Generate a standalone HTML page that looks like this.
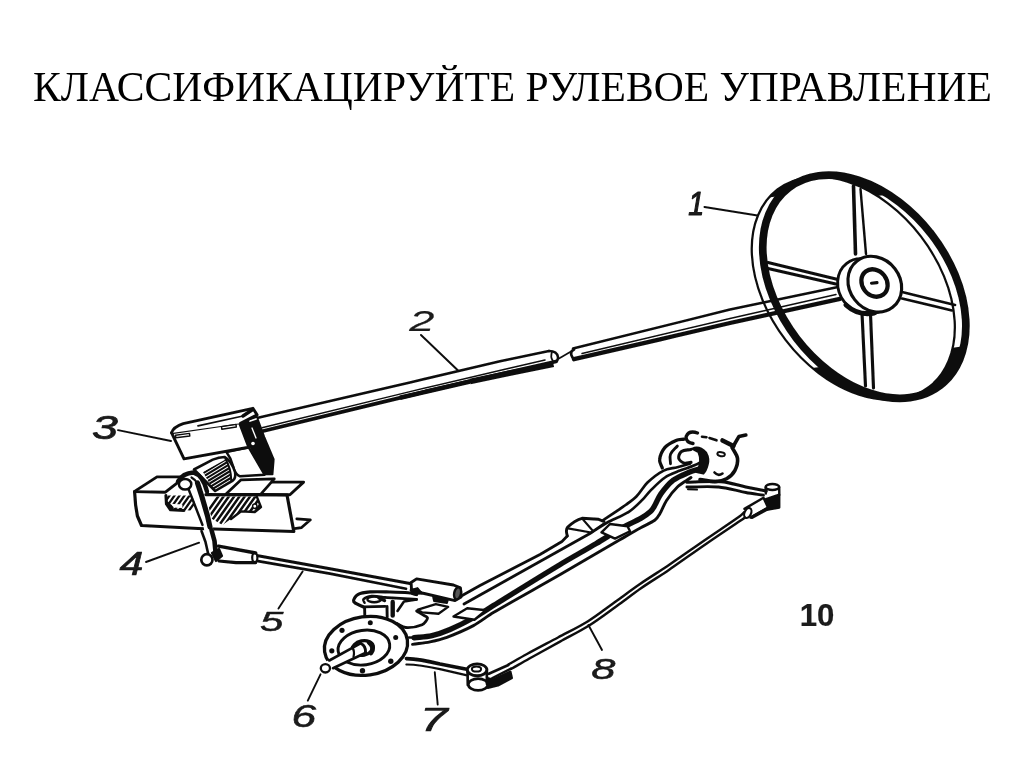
<!DOCTYPE html>
<html lang="ru">
<head>
<meta charset="utf-8">
<title>Классифицируйте рулевое управление</title>
<style>
html,body{margin:0;padding:0;background:#fff;}
body{width:1024px;height:767px;position:relative;overflow:hidden;font-family:"Liberation Serif",serif;}
#title{position:absolute;left:33.3px;top:62.5px;margin:0;font-weight:normal;font-size:42.3px;line-height:48px;white-space:nowrap;color:#000;transform-origin:0 0;transform:scaleX(0.9825);filter:grayscale(1);}
#art{position:absolute;left:0;top:0;width:1024px;height:767px;}
#art text{font-family:"Liberation Sans",sans-serif;font-style:italic;font-weight:normal;fill:#1a1a1a;stroke:#1a1a1a;stroke-width:0.5;}
</style>
</head>
<body>
<h1 id="title">КЛАССИФИКАЦИРУЙТЕ РУЛЕВОЕ УПРАВЛЕНИЕ</h1>
<svg id="art" width="1024" height="767" viewBox="0 0 1024 767">
<defs>
<filter id="soft" x="-2%" y="-2%" width="104%" height="104%"><feGaussianBlur stdDeviation="0.6"/></filter>
</defs>
<g id="draw" filter="url(#soft)" fill="none" stroke="#0e0e0e" stroke-width="2.7" stroke-linecap="round" stroke-linejoin="round">
<g id="wheel">
<!-- steering column (right segment) -->
<path d="M574 349.5 Q569 352 572.5 357.5" />
<path d="M573 348.5 L730 309.5 L838 287" stroke-width="2.46"/>
<path d="M574 359.2 L660 339.3 L730 323 L840 298.8" stroke-width="4.3"/>
<path d="M582 353.5 L730 318.5 L836 294.5" stroke-width="1.46"/>
<!-- spokes -->
<path d="M853.5 186 L855.5 254" stroke-width="3.58"/>
<path d="M860.5 189 L866 254" stroke-width="2.46"/>
<path d="M768 262.5 L840 280" stroke-width="2.91"/>
<path d="M768 268.5 L838 284.5" stroke-width="2.91"/>
<path d="M902 292 L955 305" stroke-width="2.69"/>
<path d="M902 298.5 L952 310.5" stroke-width="2.69"/>
<path d="M862 313 L865.5 386" stroke-width="3.14"/>
<path d="M870.5 314 L873.5 388" stroke-width="3.14"/>
<!-- rim -->
<ellipse cx="864.3" cy="286.7" rx="124.5" ry="85.2" transform="rotate(52.5 864.3 286.7)" stroke-width="7.7"/>
<ellipse cx="853.3" cy="288.2" rx="124.5" ry="85.2" transform="rotate(52.5 853.3 288.2)" stroke-width="2.24"/>
<path d="M779.8 196.1 L781.6 194.2 L783.4 192.3 L785.4 190.5 L787.3 188.8 L789.4 187.3 L791.5 185.8 L793.7 184.4 L796.0 183.0 L798.3 181.8 L800.7 180.7 L803.2 179.7 L805.7 178.8 L808.2 178.0 L810.8 177.3 L813.5 176.7 L816.2 176.1 L819.0 175.7 L821.7 175.4 L824.6 175.2 L827.5 175.1 L830.4 175.2 L833.3 175.3 L836.3 175.5 L839.3 175.8 L842.3 176.2 L845.3 176.8 L848.4 177.4 L851.4 178.1 L854.5 179.0 L857.6 179.9 L860.7 180.9 L863.8 182.1 L866.9 183.3 L870.0 184.6 L873.1 186.0 L876.2 187.6 L879.3 189.2 L882.3 190.9 L885.4 192.7 L888.4 194.5 L877.4 196.0 L874.4 194.2 L871.3 192.4 L868.3 190.7 L865.2 189.1 L862.1 187.5 L859.0 186.1 L855.9 184.8 L852.8 183.6 L849.7 182.4 L846.6 181.4 L843.5 180.5 L840.4 179.6 L837.4 178.9 L834.3 178.3 L831.3 177.7 L828.3 177.3 L825.3 177.0 L822.3 176.8 L819.4 176.7 L816.5 176.6 L813.6 176.7 L810.7 176.9 L808.0 177.2 L805.2 177.6 L802.5 178.2 L799.8 178.8 L797.2 179.5 L794.7 180.3 L792.2 181.2 L789.7 182.2 L787.3 183.3 L785.0 184.5 L782.7 185.9 L780.5 187.3 L778.4 188.8 L776.3 190.3 L774.4 192.0 L772.4 193.8 L770.6 195.7 L768.8 197.6 Z" fill="#0e0e0e" stroke="none"/>
<path d="M963.7 346.3 L962.7 350.4 L961.5 354.5 L960.1 358.3 L958.5 362.1 L956.7 365.6 L954.8 369.1 L952.6 372.3 L950.3 375.4 L947.8 378.4 L945.2 381.1 L942.3 383.7 L939.4 386.0 L936.3 388.2 L933.0 390.1 L929.6 391.9 L926.1 393.4 L922.4 394.8 L918.7 395.9 L914.8 396.8 L910.8 397.5 L906.8 398.0 L902.6 398.2 L898.4 398.2 L894.1 398.1 L889.8 397.6 L885.4 397.0 L880.9 396.2 L876.5 395.1 L872.0 393.8 L867.4 392.3 L862.9 390.6 L858.4 388.7 L853.9 386.6 L849.4 384.3 L845.0 381.8 L840.5 379.1 L836.2 376.2 L831.9 373.2 L827.6 369.9 L823.4 366.6 L812.4 368.1 L816.6 371.4 L820.9 374.7 L825.2 377.7 L829.5 380.6 L834.0 383.3 L838.4 385.8 L842.9 388.1 L847.4 390.2 L851.9 392.1 L856.4 393.8 L861.0 395.3 L865.5 396.6 L869.9 397.7 L874.4 398.5 L878.8 399.1 L883.1 399.6 L887.4 399.7 L891.6 399.7 L895.8 399.5 L899.8 399.0 L903.8 398.3 L907.7 397.4 L911.4 396.3 L915.1 394.9 L918.6 393.4 L922.0 391.6 L925.3 389.7 L928.4 387.5 L931.3 385.2 L934.2 382.6 L936.8 379.9 L939.3 376.9 L941.6 373.8 L943.8 370.6 L945.7 367.1 L947.5 363.6 L949.1 359.8 L950.5 356.0 L951.7 351.9 L952.7 347.8 Z" fill="#0e0e0e" stroke="none"/>
<!-- hub -->
<ellipse cx="864.5" cy="286.5" rx="29.2" ry="25.4" transform="rotate(52.5 864.5 286.5)" fill="#fff" stroke-width="2.91"/>
<path d="M846 305 Q858 316 874 313" stroke-width="5.04"/>
<ellipse cx="874.8" cy="284.2" rx="29.2" ry="25.4" transform="rotate(52.5 874.8 284.2)" fill="#fff" stroke-width="3.14"/>
<ellipse cx="874.5" cy="283" rx="14.5" ry="12.3" transform="rotate(52.5 874.5 283)" stroke-width="4.26"/>
<path d="M871.5 283.2 L877 282.6" stroke-width="3.14"/>
</g>

<g id="shaft">
<!-- left segment of the column -->
<path d="M258 417.8 L410 382.5 L500 361.2 L549 351" stroke-width="2.69"/>
<path d="M253 433.5 L410 395.3 L505 373 L556 361.5" stroke-width="3.81"/>
<path d="M262 427.8 L410 391.6 L505 369.3 L545 360" stroke-width="1.46"/>
<path d="M549 351 Q557 351 558 357 Q558 361 556 361.5" stroke-width="2.46"/>
<path d="M552 352 Q550 357 553 361" stroke-width="1.79"/>
<path d="M559 358.5 L571 351.5" stroke-width="1.68"/>
<path d="M470 381.5 L508 373.6 L553.5 364.3" stroke-width="5.6" stroke-linecap="butt"/>
<path d="M400 397.8 L470 381.5" stroke-width="4.6" stroke-linecap="butt"/>
<!-- label leaders -->
<path d="M421 335 L457.5 370" stroke-width="2.02"/>
<path d="M704.5 207 L757.5 215.6" stroke-width="2.02"/>
</g>

<g id="gearbox">
<!-- column end into the box -->
<!-- dark right side of the box -->
<path d="M240.5 423.2 L249.6 411.6 L256.2 414.9 L264.4 437 L273.8 459.3 L272.6 474.5 L262 474.5 L257.9 461.4 L250.3 446.4 Z" fill="#111" stroke-width="1.7"/>
<circle cx="253" cy="443.5" r="1.8" fill="#fff" stroke="none"/>
<path d="M250 421 L256 419" stroke="#fff" stroke-width="1.79"/>
<path d="M252 428 L256 438" stroke="#fff" stroke-width="1.34"/>
<!-- lower housing -->
<path d="M226.4 452 L248.8 447.3 L264.6 474.7 L240 476.3 Q234.5 474 233 466 Q231 458 226.4 452 Z" fill="#fff" stroke-width="2.46"/>
<!-- box front face -->
<path d="M171.6 432.9 L239.6 422.9 L248.8 447.3 L184 458.9 Z" fill="#fff" stroke-width="2.91"/>
<!-- box top face -->
<path d="M171.6 432.9 Q173 427 183.2 423.6 L252.9 408.3 L257.1 414.9 L240.5 423.2" fill="#fff" stroke-width="2.91"/>
<path d="M198 425.8 L243 416" stroke-width="1.79"/>
<path d="M243 416 L252 410" stroke-width="3.36"/>
<!-- slots -->
<path d="M175.5 435.3 L189.5 433.4 L189.8 436 L175.8 437.8 Z" stroke-width="1.46"/>
<path d="M221.5 426.6 L236 424.4 L236.3 427 L221.8 429.2 Z" stroke-width="1.46"/>
<!-- roller / worm with hatching -->
<path d="M194 469.5 L212.8 459.6 Q219 457 224.5 457 Q231.6 461 235.1 472.2 Q236 478 232.8 480.6 L215.2 491 Z" fill="#fff" stroke-width="2.6"/>
<clipPath id="hc"><path d="M203 472 L225.5 459.5 Q231 468 231.5 480 L213.5 490.5 Z"/></clipPath>
<g clip-path="url(#hc)" stroke-width="2.1">
<path d="M200 475.0 L232 455.6 M200 478.6 L232 459.2 M200 482.2 L232 462.8 M200 485.8 L232 466.4 M200 489.4 L232 470.0 M200 493.0 L232 473.6 M200 496.6 L232 477.2 M200 500.2 L232 480.8"/>
</g>
<path d="M225.5 459 Q231 468 231.3 480.5" stroke-width="2"/>
</g>

<g id="frame">
<!-- rail front face -->
<path d="M134.6 491.9 L135.6 505 L137.4 516 L141.5 525.5 L198.1 528.5 L293.8 531.5 L287 495 L205.9 494.6" fill="#fff" stroke-width="3.2"/>
<!-- top face left -->
<path d="M134.6 491.4 L157 476.9 L179.5 476.9" stroke-width="2.9"/>
<path d="M134.6 491.6 L165.4 492.2 L178 482.4" stroke-width="2.9"/>
<!-- right top faces -->
<path d="M225.5 494.4 L241.1 479.8 L274.3 478.8 L260.6 494.4 Z" fill="#fff" stroke-width="2.7"/>
<path d="M272 482.1 L303.6 482.1 L289.9 494.8 L260.6 494.4" stroke-width="2.9"/>
<!-- flange -->
<path d="M296.8 518.8 L310.4 519.8 L301.6 527.6 L294.4 528.6" stroke-width="2.7"/>
<!-- hatched sections -->
<clipPath id="hl"><path d="M165.9 495.4 L194.2 495.4 L197.1 511 L169.8 509 L165.9 503.2 Z"/></clipPath>
<clipPath id="hr"><path d="M205.9 496.4 L256.7 496.4 L261 507.1 L254.8 512 L241.1 511.4 L222.5 525.1 L211.8 518.8 Z"/></clipPath>
<g clip-path="url(#hl)" stroke-width="2.3">
<path d="M158 512 L172 492 M163 512 L177 492 M168 512 L182 492 M173 512 L187 492 M178 512 L192 492 M183 512 L197 492 M188 512 L202 492"/>
</g>
<path d="M171.2 503.8 L182.4 504.4 L182.4 508 L172.5 507.4 Z" fill="#fff" stroke="none"/>
<path d="M165.9 495.4 L166.4 503.8 L170.5 509.8 L184 510.4" stroke-width="3"/>
<path d="M167 503 L172 508" stroke-width="3.4"/>
<g clip-path="url(#hr)" stroke-width="2.5">
<path d="M196 528 L220 494 M201.3 528 L225.3 494 M206.6 528 L230.6 494 M211.9 528 L235.9 494 M217.2 528 L241.2 494 M222.5 528 L246.5 494 M227.8 528 L251.8 494 M233.1 528 L257.1 494 M238.4 528 L262.4 494 M243.7 528 L267.7 494"/>
</g>
<path d="M256.7 496.4 L261 507.1 L254.8 512 L241.1 511.4 L231 519" stroke-width="2.4"/>
<circle cx="254.8" cy="506.3" r="2.2" fill="#fff" stroke-width="1.5"/>
<!-- pitman arm (4) -->
<path d="M189 488 L197.3 509.1 L203.6 527 L208.3 552 L216.5 552 L214 532.5 L209 512 L200 486 L195 478 Z" fill="#fff" stroke="none"/>
<path d="M188.5 489 L196.5 509.5 L202.5 525" stroke-width="2.4"/>
<path d="M201.5 531 L205.5 542 L208 553" stroke-width="2.6"/>
<path d="M197.5 483 L202 497 L207.5 516 L210 527" stroke-width="5.2"/>
<path d="M211.5 530 L214.5 541 L215.5 552" stroke-width="4.6"/>
<!-- loop around the shaft -->
<path d="M178 481.3 Q183 473.2 193.3 472.5 Q203 475.5 207 491.5" stroke-width="4.4"/>
<path d="M191.5 477.5 Q198 481 200.5 492" stroke-width="2.2"/>
<ellipse cx="185.1" cy="484.3" rx="6.2" ry="5.3" fill="#fff" stroke-width="2.5"/>
<!-- lower ball + end -->
<path d="M212 553 L219 549 L222 556 L216 561 Z" fill="#111" stroke-width="2.2"/>
<circle cx="206.9" cy="559.8" r="5.6" fill="#fff" stroke-width="2.7"/>
<!-- drag link (5) -->
<path d="M218.5 546.2 L255.7 553" stroke-width="3.4"/>
<path d="M219 561 L236 562.6 L255.7 562.6" stroke-width="3.2"/>
<ellipse cx="254.8" cy="557.6" rx="2.6" ry="4.6" stroke-width="2.2"/>
<path d="M258 555.8 L330 568.7 L410 583.6" stroke-width="3.1"/>
<path d="M258 561.2 L330 573.6 L406 588.8" stroke-width="2.7"/>
<!-- leaders 3,4,5 -->
<path d="M118 430.1 L171 441" stroke-width="1.9"/>
<path d="M146 562 L199.1 542.7" stroke-width="1.9"/>
<path d="M302.6 571.6 L278.5 608.6" stroke-width="1.9"/>
</g>

<g id="axle">
<!-- axle beam: left curve + straight -->
<path d="M412.5 644.4 C418.3 643.5 424.2 643.0 430.0 641.8 C435.7 640.6 441.5 639.3 446.9 637.3 C455.9 633.9 464.9 630.1 473.4 625.6 C480.5 621.8 486.8 616.4 493.8 612.3 C515.6 599.5 537.9 587.4 559.8 574.8 C579.7 563.3 599.5 551.6 619.4 540.0 C626.7 535.8 633.9 531.6 641.2 527.5 C645.8 524.9 650.9 523.1 655.0 520.0 C657.1 518.4 658.6 515.8 660.0 513.5 C662.4 509.4 663.8 504.7 666.4 500.7 C669.6 495.8 673.2 491.0 677.4 487.0 C681.4 483.2 686.5 480.7 691.0 477.5" stroke-width="2.9"/>
<path d="M409 637.5 L416 637.6" stroke-width="2.4"/>
<path d="M414.0 637.8 C420.0 637.1 426.1 637.0 432.0 635.6 C438.1 634.2 444.2 632.0 450.0 629.5 C458.5 625.8 466.9 621.5 475.0 617.0 C481.4 613.4 487.5 609.2 493.8 605.3 C515.7 591.7 537.7 578.0 559.8 564.7 C571.9 557.4 584.2 550.7 596.3 543.5 C605.1 538.3 613.6 532.5 622.5 527.5 C628.6 524.1 635.2 521.6 641.2 518.1 C644.5 516.2 647.7 514.0 650.5 511.5 C652.2 510.0 653.3 507.9 654.5 506.0 C656.8 502.1 658.2 497.6 660.9 493.9 C664.5 489.0 668.5 483.9 673.3 480.2 C678.1 476.6 684.1 474.4 689.7 472.0 C692.7 470.7 696.0 470.1 699.2 469.2" stroke-width="5.4"/>
<path d="M464.0 604.0 C506.1 580.4 548.4 557.1 590.4 533.2 C596.1 530.0 601.2 526.0 606.9 522.8 C614.0 518.9 622.0 516.3 628.8 511.9 C634.0 508.5 638.3 503.8 642.8 499.4 C645.4 496.8 647.4 493.7 650.0 491.1 C654.8 486.4 659.5 481.3 665.0 477.5 C669.5 474.4 675.0 472.7 680.1 470.6 C685.0 468.6 690.2 467.3 695.1 465.1 C698.4 463.6 701.5 461.5 704.7 459.7" stroke-width="2.7"/>
<path d="M460.4 596.5 L480 585.5 L540 554.5 L562 541.5 L567.3 536" stroke-width="2.69"/>
<path d="M602.2 520.8 C609.0 516.3 615.9 511.9 622.5 507.2 C627.3 503.7 632.4 500.4 636.6 496.2 C640.7 492.2 643.3 486.6 647.5 482.6 C652.3 478.0 657.8 473.6 663.7 470.6 C667.8 468.5 672.8 468.4 677.4 467.2 C681.5 466.1 685.6 464.9 689.7 463.8" stroke-width="2.7"/>
<!-- spring seat -->
<path d="M567.3 536 Q565.5 530 567.5 527.3 Q575 520 582 518.3 L598 519.2 L604 521.5" stroke-width="2.91"/>
<path d="M568 528.3 L591 532.5 L603.5 524" stroke-width="2.24"/>
<path d="M583 519.5 L593 531" stroke-width="2.02"/>
<!-- right pad -->
<path d="M601.5 532.3 L610 524 L627.5 526.3 L630 531.3 L615 538.6 Z" fill="#fff" stroke-width="2.4"/>
<!-- left pads -->
<path d="M418 609.7 L435.8 604.2 L448.1 606.9 L438.5 613.8 L422.1 612.4 Z" fill="#fff" stroke-width="2.4"/>
<path d="M453.5 616.5 L467.2 608.3 L486 610.3 L474.5 619.8 Z" fill="#fff" stroke-width="2.4"/>

<!-- drag link socket -->
<path d="M411.1 582.5 L416.6 578.9 L453.5 585 L460.4 587.8 L461 597 L455 600.6 L422.1 593 L411.5 589.5 Z" fill="#fff" stroke-width="2.9"/>
<ellipse cx="457.6" cy="593.3" rx="3.4" ry="6.2" transform="rotate(12 457.6 593.3)" fill="#555" stroke-width="2.4"/>
<path d="M410.5 590 L417.5 588 L422.1 593.5 L412.5 594 Z" fill="#111" stroke-width="1.8"/>
<path d="M433 596.5 L448 599.5 L447 603 L434 601 Z" fill="#111" stroke-width="1.8"/>
<!-- knuckle left -->
<path d="M363.3 606.9 C360.1 605.1 354.8 603.9 353.7 601.5 C352.9 599.8 355.7 595.8 357.8 594.6 C361.1 592.6 365.9 592.2 370.1 591.9 C376.7 591.4 383.4 591.8 390.0 592.0 C396.1 592.1 402.3 592.2 408.4 592.8 C411.2 593.1 413.9 594.0 416.6 594.6" stroke-width="3.1"/>
<path d="M364.6 602.8 C364.2 601.7 362.6 600.1 363.3 599.4 C364.9 597.8 368.6 596.3 371.5 596.0 C375.9 595.6 380.6 596.9 385.1 597.4" stroke-width="2.4"/>
<ellipse cx="374.2" cy="599.4" rx="6.8" ry="2.9" stroke-width="2.4"/>
<path d="M379 598 L384.5 600.5" stroke-width="3.4"/>
<path d="M363.3 606.9 L385.1 606.3" stroke-width="2.8"/>
<path d="M364.6 607.5 L364.8 616 M387 606.5 L387.2 617" stroke-width="2.9"/>
<path d="M383.8 597.4 L416.6 599.4" stroke-width="2.7"/>
<path d="M392.7 602 L392.7 615.5" stroke-width="4.4"/>
<path d="M397.5 611 L404 601.5 L416.6 599.4" stroke-width="2.6"/>
<path d="M416.6 611.0 C418.9 612.4 421.2 613.7 423.4 615.1 C424.8 616.0 427.7 616.7 427.5 617.9 C427.2 619.9 424.6 623.6 422.1 624.7 C417.3 626.8 411.0 627.8 405.7 627.5 C402.6 627.4 399.9 624.8 397.0 623.5" stroke-width="2.8"/>
<!-- wheel hub flange (6) -->
<ellipse cx="366" cy="645.9" rx="41.8" ry="29.2" transform="rotate(-8 366 645.9)" fill="#fff" stroke-width="3.3"/>
<ellipse cx="363.9" cy="647.6" rx="26" ry="17.3" transform="rotate(-8 363.9 647.6)" stroke-width="2.9"/>
<ellipse cx="362.8" cy="648" rx="10.6" ry="7.2" transform="rotate(-12 362.8 648)" stroke-width="3.4"/>
<path d="M369 642.5 Q375 647 371 653" stroke-width="4.6"/>
<g fill="#111" stroke="none">
<circle cx="342" cy="630.3" r="2.6"/><circle cx="370.3" cy="622.8" r="2.5"/><circle cx="395.7" cy="637.4" r="2.5"/>
<circle cx="390.8" cy="661.3" r="2.7"/><circle cx="362.5" cy="670.8" r="2.7"/><circle cx="331.8" cy="650.8" r="2.6"/>
</g>
<!-- stub axle -->
<path d="M358 644.2 L324.4 662.5 L329.3 670.8 L364.5 652.8 Z" fill="#fff" stroke="none"/>
<path d="M360.5 643.3 L329.3 660.5" stroke-width="2.6"/>
<path d="M365.8 652.8 L333 668.2" stroke-width="2.6"/>
<path d="M352 647 Q355 651 353.5 657" stroke-width="2.2"/>
<path d="M361 643.5 Q366 646 365.5 652.5" stroke-width="3"/>
<ellipse cx="325.4" cy="668.3" rx="4.6" ry="4.2" fill="#fff" stroke-width="2.3"/>
<!-- tie-rod arm (7) -->
<path d="M406.4 658.6 Q420 659 440 664 L468 669.4" stroke-width="3.58"/>
<path d="M406.4 664.5 Q420 664.5 440 669.2 L466 675.2" stroke-width="2.24"/>
<!-- tie rod end left -->
<path d="M467.5 670 L467.8 685 M486.8 671 L487 684" stroke-width="2.69"/>
<ellipse cx="478.1" cy="684.5" rx="9.8" ry="5.9" stroke-width="2.69"/>
<ellipse cx="477.1" cy="669.8" rx="9.8" ry="5.9" fill="#fff" stroke-width="2.91"/>
<ellipse cx="476.5" cy="669" rx="4.6" ry="2.6" stroke-width="2.02"/>
<path d="M488.8 673.7 L508.4 664.9" stroke-width="2.69"/>
<path d="M492 678.3 L511 668.6" stroke-width="2.4"/>
<path d="M487.5 678 L493 679.5 L510.5 671.5 L512 678 L498 685.5 L487.8 688 Z" fill="#111" stroke-width="2"/>
<!-- tie rod (8) -->
<path d="M508.4 664.5 C514.6 661.0 520.7 657.4 527.0 654.0 C537.3 648.4 547.7 643.0 558.0 637.5 C568.0 632.1 578.4 627.2 588.0 621.2 C597.4 615.4 606.0 608.4 615.0 602.0 C623.4 596.0 631.5 589.8 640.0 584.0 C649.0 577.8 658.4 572.1 667.5 566.0 C680.1 557.5 692.5 548.6 705.0 540.0 C716.4 532.1 728.1 524.5 739.4 516.5 C741.2 515.2 742.8 513.5 744.5 512.0" stroke-width="2.46"/>
<path d="M511.5 668.8 C517.3 665.5 523.1 662.1 529.0 658.8 C539.3 653.0 549.7 647.3 560.0 641.6 C569.8 636.1 580.0 631.2 589.5 625.2 C598.8 619.4 607.6 612.6 616.5 606.2 C624.7 600.3 632.7 594.0 641.0 588.2 C650.0 582.0 659.4 576.4 668.5 570.2 C681.1 561.6 693.4 552.6 706.0 544.0 C717.6 536.0 729.4 528.2 741.0 520.3 C743.0 518.9 745.0 517.4 747.0 516.0" stroke-width="2.46"/>
<!-- right knuckle -->
<path d="M662.3 467.9 C661.4 465.2 659.2 462.4 659.6 459.7 C660.1 455.5 662.2 450.7 665.0 447.4 C667.7 444.3 672.1 442.2 676.0 440.5 C678.5 439.4 681.5 439.6 684.2 439.2" stroke-width="3.3"/>
<path d="M670.5 463.8 C670.5 460.6 669.4 457.0 670.5 454.2 C671.7 451.1 675.1 448.7 677.4 446.0" stroke-width="2.8"/>
<path d="M691.0 449.4 C687.8 450.1 683.8 449.8 681.5 451.5 C679.7 452.8 678.2 456.4 678.7 458.3 C679.1 460.2 682.1 462.4 684.2 463.1 C686.2 463.8 688.7 462.6 691.0 462.4" stroke-width="3.1"/>
<path d="M732.0 447.4 C733.8 451.0 737.0 454.5 737.5 458.3 C738.0 462.2 736.7 467.0 734.8 470.6 C733.1 473.9 729.8 476.9 726.6 478.8 C723.5 480.6 719.4 481.5 715.7 481.6 C710.5 481.7 705.2 480.2 700.0 479.5" stroke-width="3.6"/>
<path d="M692.4 448.7 Q699.2 445.5 706.1 452.8 Q709.5 459 707.5 465.1 Q706 471 703.4 473.4 L696.5 472 Q703 462 698.5 452 Z" fill="#111" stroke-width="2.2"/>
<path d="M697.5 433 Q689 430 686.2 436.5 Q685.5 442.5 693 443.5" stroke-width="3.3"/>
<path d="M702 436.7 L706.5 437.2 M709.5 438 L716.5 440.3" stroke-width="2.6"/>
<path d="M722.5 440.5 L733.4 446" stroke-width="4.6"/>
<path d="M733.4 446 L739 436.4 L745.8 435" stroke-width="3.6"/>
<ellipse cx="721.1" cy="454.2" rx="3.8" ry="2" transform="rotate(10 721.1 454.2)" stroke-width="2"/>
<path d="M714.5 472.5 Q718 476.5 722.5 473.5" stroke-width="2.6"/>
<!-- right tie-rod arm -->
<path d="M686.9 482.2 C698.3 482.0 709.8 480.7 721.1 481.6 C729.4 482.3 737.6 485.3 745.8 487.0 C752.6 488.4 759.5 489.7 766.3 491.1" stroke-width="3.1"/>
<path d="M686.9 487.0 C697.4 487.0 708.0 486.0 718.4 487.0 C727.6 487.9 736.6 490.8 745.8 492.5 C751.7 493.6 757.6 494.3 763.5 495.2" stroke-width="2.8"/>
<path d="M688 489.3 L697 489.6" stroke-width="2"/>
<!-- right tie-rod end -->
<path d="M759.4 501.2 L779.3 494.6 L779.3 507.6 L763.5 510.3 Z" fill="#111" stroke-width="2.2"/>
<path d="M765.6 488 L765.8 493.5 M779.2 487.5 L779.3 495" stroke-width="2.4"/>
<ellipse cx="772.4" cy="487" rx="6.8" ry="3" fill="#fff" stroke-width="2.5"/>
<path d="M744.4 508.9 L763.5 497.8 L768 507.5 L750.5 517.6" fill="#fff" stroke-width="2.4"/>
<path d="M752 517.3 L768.5 508.3" stroke-width="3.4"/>
<ellipse cx="747.8" cy="513" rx="3.2" ry="5.2" transform="rotate(25 747.8 513)" fill="#fff" stroke-width="2.2"/>
<!-- leaders 6,7,8 -->
<path d="M320.5 674.3 L307.8 700.6" stroke-width="1.90"/>
<path d="M434.8 672.3 L437.7 704.5" stroke-width="1.90"/>
<path d="M588.4 625 L602 650" stroke-width="1.90"/>
</g>

<g id="labels">
<text transform="translate(688.34 214.80) scale(0.955 1.087)" font-size="30" style="stroke-width:1.1">1</text>
<text transform="translate(409.20 331.00) scale(1.506 1.000)" font-size="30" style="stroke-width:0.2">2</text>
<text transform="translate(91.90 439.47) scale(1.551 1.099)" font-size="30" style="stroke-width:0.65">3</text>
<text transform="translate(119.47 575.32) scale(1.431 1.078)" font-size="30" style="stroke-width:0.6">4</text>
<text transform="translate(260.06 631.42) scale(1.401 0.948)" font-size="30">5</text>
<text transform="translate(291.54 727.39) scale(1.476 1.028)" font-size="30">6</text>
<text transform="translate(420.04 731.33) scale(1.653 1.113)" font-size="30" style="stroke-width:0.65">7</text>
<text transform="translate(591.30 679.21) scale(1.449 0.962)" font-size="30">8</text>
<text transform="translate(799.73 625.69) scale(1.040 1.042)" font-size="30" style="font-style:normal;font-weight:bold;stroke-width:0.2">10</text>
</g>
</g>
</svg>
</body>
</html>
